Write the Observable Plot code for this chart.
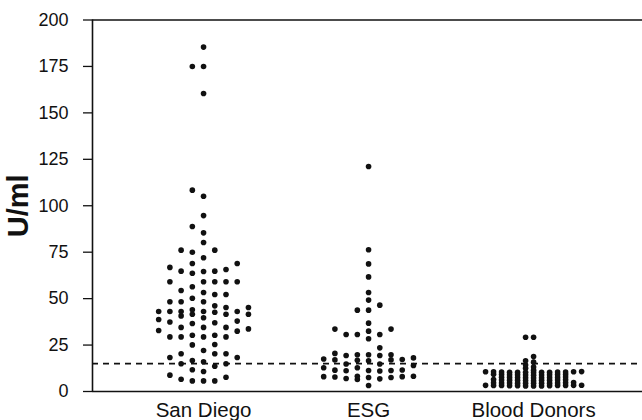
<!DOCTYPE html>
<html>
<head>
<meta charset="utf-8">
<script src="https://cdn.jsdelivr.net/npm/d3@7"></script>
<script src="https://cdn.jsdelivr.net/npm/@observablehq/plot@0.6"></script>
<style>
  html, body { margin: 0; padding: 0; background: #fff; }
  svg { font-family: "Liberation Sans", Arial, sans-serif; }
</style>
</head>
<body>
<div id="chart"></div>
<script>
const categories = ["San Diego", "ESG", "Blood Donors"];

const sanDiego = [185.4,175,175,160.4,108.4,105.1,94.7,88.8,85.4,80.2,76.1,76.1,75.0,72.0,68.9,68.9,66.8,65.7,64.8,64.8,64.6,63.7,59.1,59.1,59.1,59.1,59.1,56.4,54.4,53.3,52.2,52.2,50.2,48.3,48.3,48.3,46.1,45.2,45.2,44.0,43.1,43.1,43.1,43.1,43.1,42.7,41.6,41.6,41.6,40.7,39.7,38.8,37.9,37.4,37.0,36.6,34.5,34.5,34.5,33.7,32.8,32.5,30.3,30.3,29.4,29.4,29.4,29.4,25.3,25.1,22.1,20.3,20.3,20.3,18.3,18.3,16.7,16.0,14.9,14.9,13.6,11.7,10.8,8.8,7.7,6.6,5.7,5.7,5.7];

const esg = [121.1,76.3,68.7,61.7,53.3,49.2,46.5,43.8,43.8,36.8,33.6,33.6,32.5,30.7,30.7,30.7,28.4,23.5,20.5,19.8,19.8,19.8,19.4,19.4,18.1,17.5,17.2,17.0,17.0,16.8,16.5,14.8,14.8,14.0,12.8,12.8,11.5,11.3,11.0,11.3,11.6,11.2,8.2,8.0,7.5,7.0,6.8,7.5,8.0,8.2,7.8,6.5,3.2];

const bloodDonors = [29.2,29.2,18.8,16.5,15.8,14.2,13.2,12.5,11.5,
  3.0,3.1,3.2,3.0,3.3,3.1,3.2,3.4,3.0,3.2,3.1,3.3,3.2,
  4.5,4.6,4.4,4.7,4.5,4.8,4.6,4.4,4.5,4.7,4.6,
  6.0,6.2,5.9,6.1,6.3,6.0,6.2,5.8,6.1,6.4,
  7.4,7.6,7.5,7.3,7.7,7.5,7.4,7.8,7.6,
  8.9,9.0,9.1,8.8,9.2,9.0,8.9,9.1,9.3,9.0,
  10.3,10.5,10.4,10.6,10.2,10.5,10.7,10.4,10.3,10.6,10.5,10.4,10.6];

const cutoff = 15;
const yTicks = [0,25,50,75,100,125,150,175,200];

// layout settings (column spacing in x units, min vertical gap in U/ml, max columns per side)
const groupSettings = [
  {values: sanDiego, step: 0.068, gap: 5.0, maxCol: 4},
  {values: esg, step: 0.068, gap: 4.0, maxCol: 4},
  {values: bloodDonors, step: 0.0485, gap: 1.2, maxCol: 6}
];

function columnLayout(values, center, step, gap, maxCol, group) {
  const sorted = values.slice().sort((a, b) => a - b);
  const order = [0];
  for (let k = 1; k <= maxCol; k++) order.push(-k, k);
  const cols = new Map();
  return sorted.map(v => {
    let best = 0, bestD = -1;
    for (const c of order) {
      const arr = cols.get(c) || [];
      const d = arr.length ? Math.min(...arr.map(u => Math.abs(u - v))) : Infinity;
      if (d >= gap) { best = c; break; }
      if (d > bestD) { bestD = d; best = c; }
    }
    if (!cols.has(best)) cols.set(best, []);
    cols.get(best).push(v);
    return {group, value: v, pos: center + best * step};
  });
}

const points = groupSettings.flatMap((g, i) =>
  columnLayout(g.values, i + 1, g.step, g.gap, g.maxCol, categories[i]));

const xDomain = [0.327, 3.66];

const chart = Plot.plot({
  width: 642,
  height: 420,
  marginLeft: 92,
  marginRight: 0,
  marginTop: 19.5,
  marginBottom: 29,
  x: {domain: xDomain},
  y: {domain: [0, 200]},
  marks: [
    Plot.axisY({ticks: yTicks, tickSize: 9, tickPadding: 15, fontSize: 18, label: null, stroke: "#111", strokeWidth: 1.3, color: "#111"}),
    Plot.axisX({ticks: [1, 2, 3], tickFormat: d => categories[d - 1], tickSize: 0, tickPadding: 11, fontSize: 20.5, label: null, color: "#111"}),
    Plot.ruleY([cutoff], {stroke: "#111", strokeWidth: 1.6, strokeDasharray: "6,5"}),
    Plot.ruleY([0, 200], {stroke: "#111", strokeWidth: 1.6}),
    Plot.ruleX([xDomain[0]], {stroke: "#111", strokeWidth: 1.6}),
    Plot.dot(points, {x: "pos", y: "value", r: 2.8, fill: "#111", stroke: "none"}),
    Plot.text([{v: 100}], {y: "v", frameAnchor: "left", textAnchor: "middle", dx: -73.5, rotate: -90, text: () => "U/ml", fontSize: 29, fontWeight: "bold", fill: "#111"})
  ]
});
document.getElementById("chart").appendChild(chart);
</script>
</body>
</html>
